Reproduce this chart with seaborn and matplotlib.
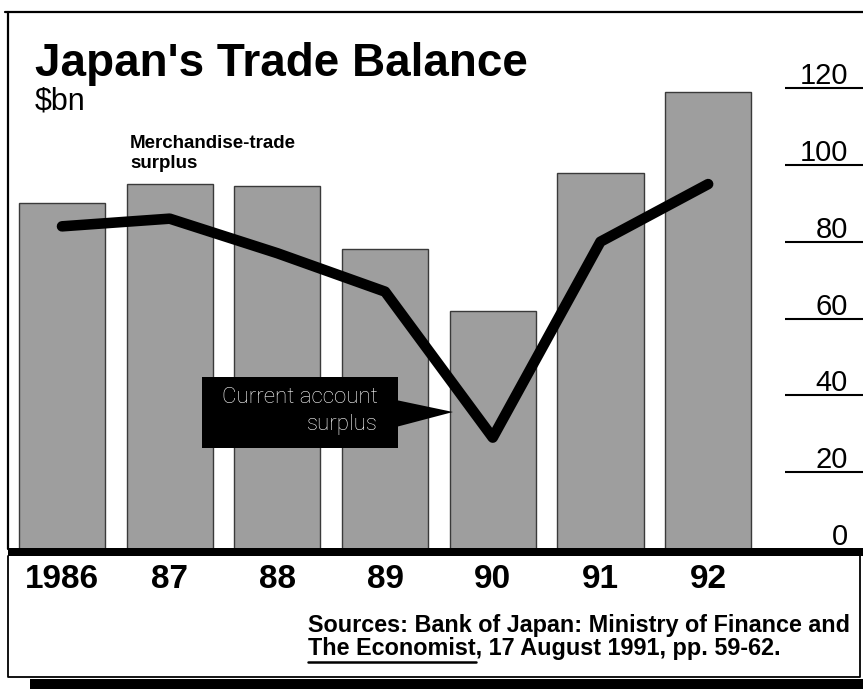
import numpy as np
import pandas as pd
import matplotlib
matplotlib.use("Agg")
import matplotlib.pyplot as plt
import matplotlib.transforms as mtransforms
from matplotlib.patches import Rectangle, Polygon
from matplotlib.lines import Line2D
import seaborn as sns

# Japan's trade balance, $bn
years = ["1986", "87", "88", "89", "90", "91", "92"]
merchandise_surplus = [90, 95, 94.5, 78, 62, 98, 119]
current_account = [84, 86, 77, 67, 29, 80, 95]
y_ticks = [0, 20, 40, 60, 80, 100, 120]

W, H = 863, 689
sns.set_theme(style="white")
plt.rcParams["font.family"] = ["Liberation Sans", "DejaVu Sans"]
plt.rcParams["text.color"] = "black"

fig = plt.figure(figsize=(W / 100, H / 100), dpi=100)


def fx(px):
    return px / W


def fy(py):
    return 1 - py / H


# plotting area: x from 8 px to the right edge, y from 12 px to the zero line
ax = fig.add_axes([fx(8), fy(549), (W - 8) / W, (549 - 12) / H])

df = pd.DataFrame({"year": years, "surplus": merchandise_surplus})
sns.barplot(data=df, x="year", y="surplus", order=years, color="#9e9e9e",
            saturation=1, width=0.8, edgecolor="#3a3a3a", linewidth=1,
            ax=ax, zorder=1)

pos = np.arange(len(years))
sns.lineplot(x=pos, y=current_account, color="black", linewidth=7.6,
             sort=False, ax=ax, zorder=3,
             solid_capstyle="round", solid_joinstyle="round")

ax.set_xlim(-0.5014, 7.438)
ax.set_ylim(0, 139.8)
ax.set_xticks([])
ax.set_yticks([])
ax.set_xlabel("")
ax.set_ylabel("")
for s in ax.spines.values():
    s.set_visible(False)
ax.set_facecolor("white")

# right-hand scale: numbers sitting on short rules
ytr = ax.get_yaxis_transform()
lab_tr = mtransforms.offset_copy(ytr, fig=fig, y=4, units="dots")
for v in y_ticks:
    if v > 0:
        ax.plot([0.9088, 1.0], [v, v], transform=ytr, color="black",
                lw=1.5, solid_capstyle="butt", clip_on=False, zorder=4)
    ax.text(0.9825, v, str(v), transform=lab_tr, ha="right", va="baseline",
            fontsize=21, color="black", zorder=5)

# year labels under the bars
xtr = ax.get_xaxis_transform()
for i, yr in enumerate(years):
    ax.text(i, (549 - 588) / 537, yr, transform=xtr, ha="center",
            va="baseline", fontsize=24, fontweight="bold", color="black",
            clip_on=False)

# frame: top rule, left rule, heavy base band, lower box with shadow
fig.add_artist(Line2D([fx(5), fx(863)], [fy(12), fy(12)], color="black", lw=1.6))
fig.add_artist(Line2D([fx(8), fx(8)], [fy(12), fy(549)], color="black", lw=1.6))
fig.add_artist(Rectangle((fx(8), fy(556)), (W - 8) / W, 8 / H,
                         transform=fig.transFigure, color="black", lw=0))
fig.add_artist(Line2D([fx(8), fx(8), fx(860), fx(860)],
                      [fy(556), fy(677), fy(677), fy(556)],
                      color="black", lw=1.3))
fig.add_artist(Rectangle((fx(30), fy(689)), (W - 30) / W, 10 / H,
                         transform=fig.transFigure, color="black", lw=0))

# titles
fig.text(fx(35), fy(76), "Japan's Trade Balance", fontsize=33,
         fontweight="bold", va="baseline", ha="left")
fig.text(fx(35), fy(110), "$bn", fontsize=22, va="baseline", ha="left")
fig.text(fx(130), fy(148), "Merchandise-trade", fontsize=13.5,
         fontweight="bold", va="baseline", ha="left")
fig.text(fx(130), fy(168), "surplus", fontsize=13.5,
         fontweight="bold", va="baseline", ha="left")

# callout for the current-account line
fig.add_artist(Rectangle((fx(202), fy(448)), (398 - 202) / W, (448 - 377) / H,
                         transform=fig.transFigure, color="black", lw=0))
fig.add_artist(Polygon([(fx(396), fy(400)), (fx(453), fy(412)), (fx(396), fy(427))],
                       closed=True, transform=fig.transFigure, color="black", lw=0))
fig.text(fx(378), fy(403), "Current account", fontsize=16, color="white",
         family=["Roboto", "DejaVu Sans"], fontweight="light",
         ha="right", va="baseline")
fig.text(fx(378), fy(430), "surplus", fontsize=16, color="white",
         family=["Roboto", "DejaVu Sans"], fontweight="light",
         ha="right", va="baseline")

# sources
fig.text(fx(308), fy(632), "Sources: Bank of Japan: Ministry of Finance and",
         fontsize=16.8, fontweight="bold", va="baseline", ha="left")
fig.text(fx(308), fy(655), "The Economist, 17 August 1991, pp. 59-62.",
         fontsize=16.8, fontweight="bold", va="baseline", ha="left")
probe = fig.text(fx(308), fy(655), "The Economist", fontsize=16.8,
                 fontweight="bold", va="baseline", ha="left", alpha=0)
fig.canvas.draw()
ext = probe.get_window_extent()
probe.remove()
fig.add_artist(Line2D([fx(308), ext.x1 / W], [fy(662), fy(662)],
                      color="black", lw=1.8))

fig.savefig("out.png", dpi=100)
